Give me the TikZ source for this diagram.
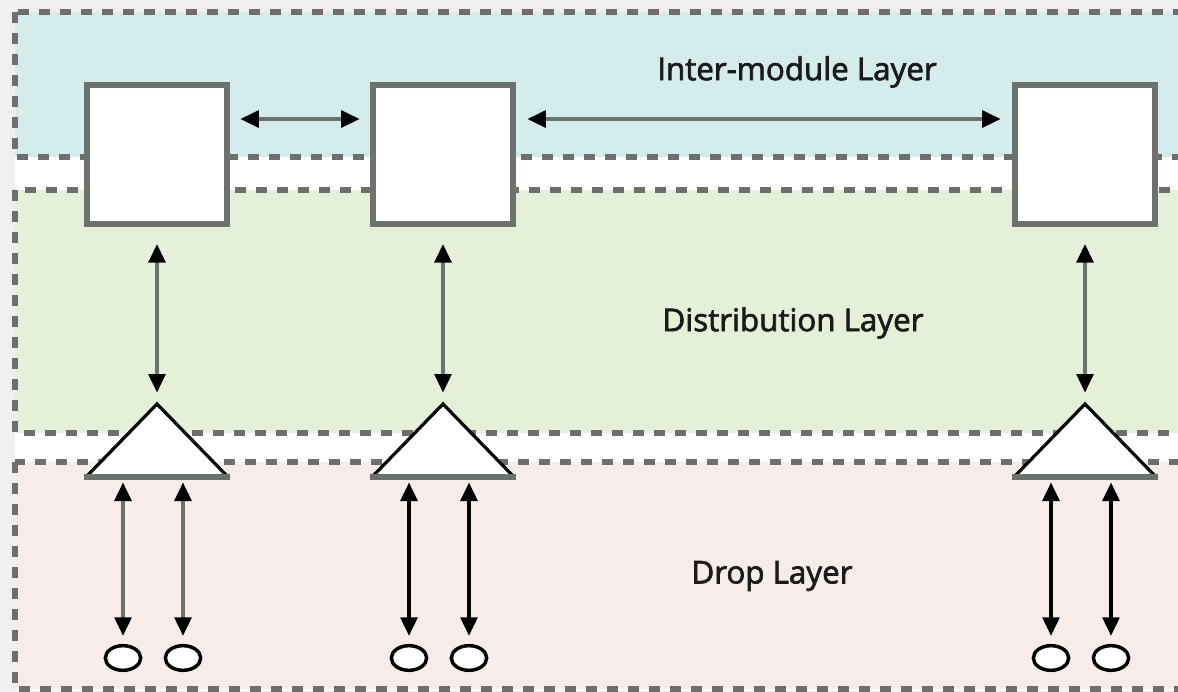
\documentclass[tikz,border=0pt]{standalone}
\usepackage{fontspec}
\setmainfont{Open Sans}
\newfontfamily\layerfont{Open Sans}[FakeBold=2.2]
\usetikzlibrary{arrows.meta,shapes.geometric}
\definecolor{pagebg}{HTML}{F0F0F0}
\definecolor{interbg}{HTML}{D4ECEC}
\definecolor{distbg}{HTML}{E4F1D8}
\definecolor{dropbg}{HTML}{F7ECEA}
\definecolor{dashgray}{HTML}{6E6E6E}
\definecolor{boxgray}{HTML}{6D726E}
\definecolor{linkgray}{HTML}{6A706C}
\definecolor{labelink}{HTML}{1A1A1A}
\tikzset{
  layer/.style={draw=dashgray, line width=4.2pt, dash pattern=on 8.25pt off 7.5pt},
  module/.style={draw=boxgray, fill=white, line width=4.8pt, minimum width=105pt, minimum height=104.4pt, inner sep=0pt},
  drop/.style={ellipse, draw=black, fill=white, line width=2.6pt, minimum width=26.5pt, minimum height=18.5pt, inner sep=0pt},
  tri/.style={fill=white, draw=black, line width=2.4pt, line join=miter},
  tribase/.style={draw=linkgray, line width=4pt},
  tip/.tip={Triangle[length=14pt, width=12.5pt, color=black]},
  biarrow/.style={{tip}-{tip}, line width=3pt},
  layerlabel/.style={text=labelink, font=\layerfont\fontsize{23.5}{26}\selectfont, inner sep=0pt}
}
\begin{document}
\begin{tikzpicture}[x=0.75pt, y=-0.75pt]
  % page and clipping frame
  \fill[pagebg] (0,0) rectangle (1178,692);
  \useasboundingbox (0,0) rectangle (1178,692);
  \clip (0,0) rectangle (1178,692);
  \fill[white] (15,12) rectangle (1200,690);

  % the three layers
  \path[layer, fill=interbg] (15,12) rectangle (1200,157);
  \path[layer, fill=distbg] (15,190) rectangle (1200,433);
  \path[layer, fill=dropbg] (15,462) rectangle (1200,689);

  % layer names
  \node[layerlabel] (lblinter) at (797,72) {Inter-module Layer};
  \node[layerlabel] (lbldist) at (793,323) {Distribution Layer};
  \node[layerlabel] (lbldrop) at (772,576) {Drop Layer};

  % modules
  \node[module] (m1) at (157,154.5) {};
  \node[module] (m2) at (443,154.5) {};
  \node[module] (m3) at (1085,154.5) {};

  % distribution triangles
  \foreach \i/\cx in {1/157, 2/443, 3/1085} {
    \coordinate (t\i) at (\cx,404);
    \coordinate (t\i l) at (\cx-71,477);
    \coordinate (t\i r) at (\cx+71,477);
    \path[tri] (t\i l) -- (t\i) -- (t\i r);
    \draw[tribase] ([xshift=-1.5pt]t\i l) -- ([xshift=1.5pt]t\i r);
    \coordinate (t\i a) at (\cx-34,477);
    \coordinate (t\i b) at (\cx+26,477);
    \node[drop] (d\i a) at (\cx-34,658) {};
    \node[drop] (d\i b) at (\cx+26,658) {};
  }

  % inter-module links, in the upper part of the modules
  \draw[biarrow, draw=linkgray, shorten <=7.5pt, shorten >=7.5pt]
    ([yshift=26.6pt]m1.east) -- ([yshift=26.6pt]m2.west);
  \draw[biarrow, draw=linkgray, shorten <=8.25pt, shorten >=8.25pt]
    ([yshift=26.6pt]m2.east) -- ([yshift=26.6pt]m3.west);

  % module to distribution links
  \foreach \i in {1,2,3} {
    \draw[biarrow, draw=linkgray, shorten <=12.5pt, shorten >=8.5pt] (m\i.south) -- (t\i);
  }

  % drop links
  \draw[biarrow, draw=linkgray, shorten <=4pt, shorten >=6pt] (t1a) -- (d1a.north);
  \draw[biarrow, draw=linkgray, shorten <=4pt, shorten >=6pt] (t1b) -- (d1b.north);
  \foreach \i in {2,3} {
    \draw[biarrow, draw=black, shorten <=4pt, shorten >=6pt] (t\i a) -- (d\i a.north);
    \draw[biarrow, draw=black, shorten <=4pt, shorten >=6pt] (t\i b) -- (d\i b.north);
  }
\end{tikzpicture}
\end{document}
